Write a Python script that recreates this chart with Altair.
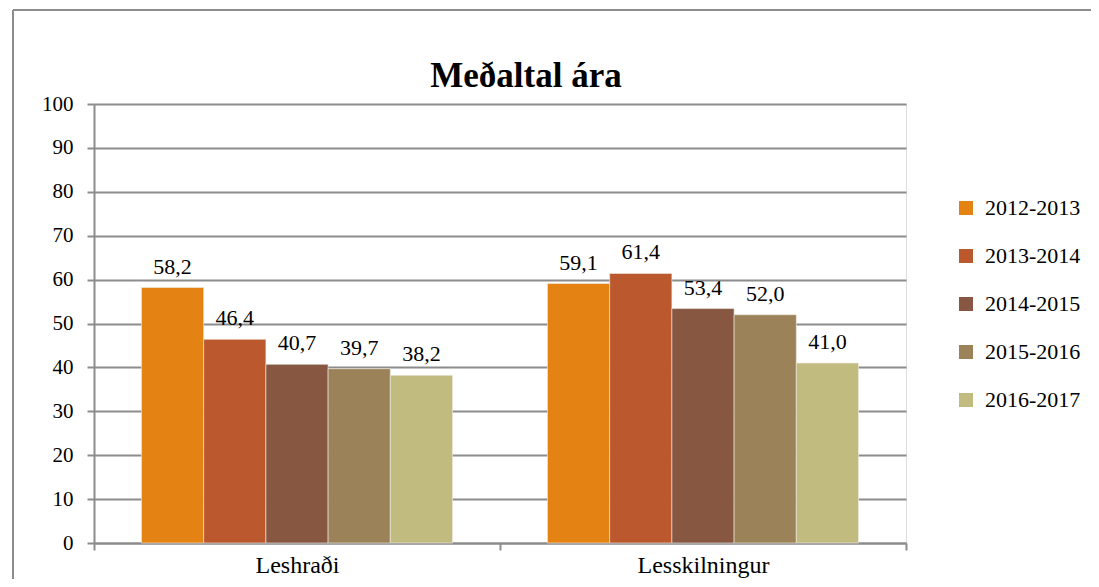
import altair as alt
import pandas as pd

categories = ["Leshraði", "Lesskilningur"]
series = ["2012-2013", "2013-2014", "2014-2015", "2015-2016", "2016-2017"]
leshradi = [58.2, 46.4, 40.7, 39.7, 38.2]
lesskilningur = [59.1, 61.4, 53.4, 52.0, 41.0]
colors = ["#E48214", "#BC582D", "#875741", "#9B8258", "#C2BB80"]
y_ticks = [0, 10, 20, 30, 40, 50, 60, 70, 80, 90, 100]
chart_title = "Meðaltal ára"

rows = []
for cat, vals in zip(categories, [leshradi, lesskilningur]):
    for s, v in zip(series, vals):
        rows.append({"category": cat, "series": s, "value": v})
df = pd.DataFrame(rows)

FONT = "Liberation Serif"
GRID = "#8c8c8c"

x_enc = alt.X(
    "category:N",
    sort=categories,
    scale=alt.Scale(paddingInner=0, paddingOuter=0),
    axis=alt.Axis(
        title=None,
        tickBand="extent",
        labelFont=FONT,
        labelFontSize=24,
        labelColor="black",
        labelPadding=3,
        labelAngle=0,
        tickSize=7,
        tickColor=GRID,
        tickWidth=2,
        domainColor=GRID,
        domainWidth=2,
        grid=False,
    ),
)
xoff = alt.XOffset("series:N", sort=series, scale=alt.Scale(paddingInner=0, paddingOuter=0.763))
y_enc = alt.Y(
    "value:Q",
    scale=alt.Scale(domain=[0, 100], nice=False),
    axis=alt.Axis(
        title=None,
        values=y_ticks,
        grid=True,
        gridColor=GRID,
        gridWidth=2,
        gridOpacity=1,
        labelFont=FONT,
        labelFontSize=21,
        labelColor="black",
        labelPadding=14,
        tickSize=7,
        tickColor=GRID,
        tickWidth=2,
        domainColor=GRID,
        domainWidth=2,
    ),
)

base = alt.Chart(df)

bars = base.mark_bar(stroke="#f2eee6", strokeWidth=0.6).encode(
    x=x_enc,
    xOffset=xoff,
    y=y_enc,
    color=alt.Color(
        "series:N",
        sort=series,
        scale=alt.Scale(domain=series, range=colors),
        legend=alt.Legend(
            title=None,
            orient="none",
            legendX=861,
            legendY=93,
            symbolType="square",
            symbolSize=196,
            symbolStrokeWidth=0,
            labelFont=FONT,
            labelFontSize=22,
            labelColor="black",
            labelOffset=8,
            rowPadding=26,
            padding=0,
        ),
    ),
)

labels = base.transform_calculate(
    label="replace(format(datum.value, '.1f'), '.', ',')"
).mark_text(font=FONT, fontSize=22, color="black", baseline="alphabetic", dy=-14).encode(
    x=alt.X("category:N", sort=categories),
    xOffset=alt.XOffset("series:N", sort=series),
    y=alt.Y("value:Q"),
    text="label:N",
)

frame_data = alt.Data(values=[{"a": 1}])
title_mark = alt.Chart(frame_data).mark_text(
    font=FONT, fontSize=35, fontWeight="bold", color="black", align="center", baseline="alphabetic"
).encode(x=alt.value(432), y=alt.value(-17), text=alt.value(chart_title))
top_border = alt.Chart(frame_data).mark_rule(color=GRID, strokeWidth=2).encode(
    x=alt.value(-81), x2=alt.value(1100), y=alt.value(-94)
)
left_border = alt.Chart(frame_data).mark_rule(color=GRID, strokeWidth=2).encode(
    x=alt.value(-81), y=alt.value(-94), y2=alt.value(600)
)

chart = (
    alt.layer(bars, labels, title_mark, top_border, left_border)
    .properties(
        width=812,
        height=439,
        padding={"left": 86, "top": 96, "right": 185, "bottom": 36},
        autosize=alt.AutoSizeParams(type="none"),
    )
    .configure_view(stroke="#ffffff", strokeWidth=0, strokeOpacity=0)
    .configure_axisX(grid=False)
    .configure(background="white")
)

chart.save("out.html", embed_options={"renderer": "svg", "actions": False})
